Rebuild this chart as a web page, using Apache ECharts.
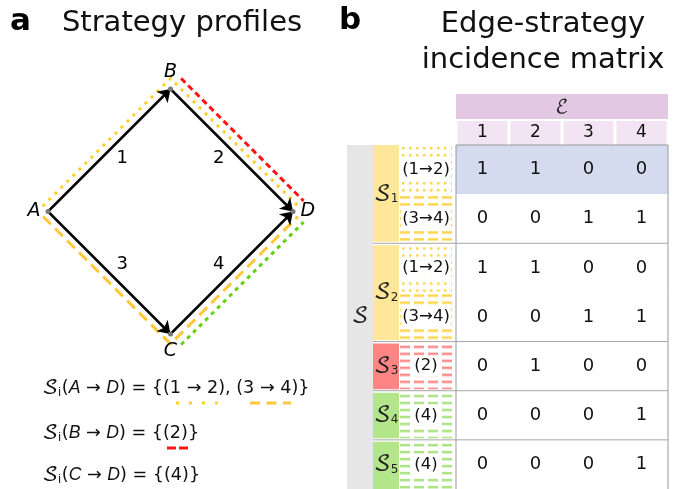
<!DOCTYPE html>
<html>
<head>
<meta charset="utf-8">
<script src="https://cdn.jsdelivr.net/npm/echarts@6/dist/echarts.min.js"></script>
<style>
html, body { margin: 0; padding: 0; background: #fff; }
#box { width: 680px; height: 489px; }
</style>
</head>
<body>
<div id="box"></div>
<script>
// ---- panel a: network ----
const nodeNames = ['A', 'B', 'C', 'D'];
const nodeX = [0, 1, 1, 2];
const nodeY = [1, 2, 0, 1];
const edgeFrom = ['A', 'B', 'A', 'C'];
const edgeTo = ['B', 'D', 'C', 'D'];
const edgeNames = ['1', '2', '3', '4'];
// strategy paths drawn beside the edges
const pathNodes = [['A', 'B', 'D'], ['A', 'C', 'D'], ['B', 'D'], ['C', 'D']];

// ---- panel b: incidence matrix ----
const edgeSetName = 'ℰ';
const edgeCols = ['1', '2', '3', '4'];
const subRowLabels = ['(1→2)', '(3→4)', '(1→2)', '(3→4)', '(2)', '(4)', '(4)'];
const rowStrategy = [1, 1, 2, 2, 3, 4, 5];
const incidence = [
  [1, 1, 0, 0],
  [0, 0, 1, 1],
  [1, 1, 0, 0],
  [0, 0, 1, 1],
  [0, 1, 0, 0],
  [0, 0, 0, 1],
  [0, 0, 0, 1]
];

const MATH = "'DejaVu Math TeX Gyre', 'DejaVu Serif', serif";
const SANS = "'DejaVu Sans', Verdana, sans-serif";
const PX = 122.5; // pixels per unit in panel a

// path styles: gap (px), colour, dash
const pathStyles = [
  { gap: 7.5, color: '#ffcf26', dash: [3, 5.5], width: 3 },
  { gap: 7, color: '#ffc83a', dash: [11, 6], width: 3 },
  { gap: 15, color: '#ff1414', dash: [6, 4], width: 3 },
  { gap: 15, color: '#66cf1a', dash: [4, 4.5], width: 3 }
];
const stratColors = { 1: '#ffe699', 2: '#ffe699', 3: '#ff8585', 4: '#b3e58b', 5: '#b3e58b' };

function makeTile(w, h, color, dx, dy, dw, dh) {
  const c = document.createElement('canvas');
  c.width = w; c.height = h;
  const g = c.getContext('2d');
  g.fillStyle = color;
  g.fillRect(dx, dy, dw, dh);
  return c;
}
const tiles = {
  '(1→2)': makeTile(7, 7, '#ffd54d', 2, 2, 2.5, 2.5),
  '(3→4)': makeTile(14, 7, '#ffd54d', 0, 2, 10, 2.5),
  '(2)': makeTile(14, 7, '#ff8a8a', 0, 2, 10, 2.5),
  '(4)': makeTile(14, 7, '#acE383', 0, 2, 10, 2.5)
};

const nIdx = n => nodeNames.indexOf(n);
const cx = nodeX.reduce((a, b) => a + b) / nodeX.length;
const cy = nodeY.reduce((a, b) => a + b) / nodeY.length;

function offsetPath(names, gap) {
  const pts = names.map(n => [nodeX[nIdx(n)], nodeY[nIdx(n)]]);
  const normals = [];
  for (let i = 0; i < pts.length - 1; i++) {
    const p = pts[i], q = pts[i + 1];
    const dx = q[0] - p[0], dy = q[1] - p[1];
    const len = Math.hypot(dx, dy);
    let n = [dy / len, -dx / len];
    const mx = (p[0] + q[0]) / 2 - cx, my = (p[1] + q[1]) / 2 - cy;
    if (n[0] * mx + n[1] * my < 0) n = [-n[0], -n[1]];
    normals.push(n);
  }
  return pts.map((p, i) => {
    let n;
    if (i === 0) n = normals[0];
    else if (i === pts.length - 1) n = normals[normals.length - 1];
    else {
      const a = normals[i - 1], b = normals[i];
      const k = 1 + a[0] * b[0] + a[1] * b[1];
      n = [(a[0] + b[0]) / k, (a[1] + b[1]) / k];
    }
    return [p[0] + gap * n[0], p[1] + gap * n[1]];
  });
}

function cellRect(api, col, row) {
  const p = api.coord([col, row]);
  const s = api.size([1, 1]);
  return { x: p[0] - s[0] / 2, y: p[1] - s[1] / 2, w: s[0], h: s[1], cx: p[0], cy: p[1] };
}

const nRows = subRowLabels.length;
const isFirst = r => r === 0 || rowStrategy[r - 1] !== rowStrategy[r];
const isLast = r => r === nRows - 1 || rowStrategy[r + 1] !== rowStrategy[r];

const cellData = [];
incidence.forEach((row, r) => row.forEach((v, c) => cellData.push([c, r, v])));
const blockData = [];
rowStrategy.forEach((s, r) => {
  if (isFirst(r)) blockData.push([0, r, r, s]);
  else blockData[blockData.length - 1][2] = r;
});
const boundaryData = [];
rowStrategy.forEach((s, r) => { if (r > 0 && isFirst(r)) boundaryData.push([0, r]); });

var myChart = echarts.init(document.getElementById('box'));
let option = {
  animation: false,
  textStyle: { fontFamily: SANS },
  grid: [
    { left: 48, top: 89, width: 245, height: 245 },
    { left: 456, top: 145, width: 212, height: 346.5 }
  ],
  xAxis: [
    { gridIndex: 0, type: 'value', min: 0, max: 2, show: false },
    {
      gridIndex: 1, type: 'category', data: edgeCols, position: 'top',
      axisLine: { show: false }, axisTick: { show: false }, splitLine: { show: false },
      axisLabel: {
        margin: 0, fontSize: 17, color: '#111', backgroundColor: '#f2e4f2',
        width: 50, height: 24, lineHeight: 24, align: 'center'
      }
    }
  ],
  yAxis: [
    { gridIndex: 0, type: 'value', min: 0, max: 2, show: false },
    { gridIndex: 1, type: 'category', data: subRowLabels, inverse: true, show: false }
  ],
  graphic: [
    { type: 'text', left: 10, top: 6, style: { text: 'a', font: 'bold 31px ' + SANS, fill: '#000' } },
    { type: 'text', x: 182, y: 23, style: { text: 'Strategy profiles', font: '29px ' + SANS, fill: '#111', align: 'center', verticalAlign: 'middle' } },
    { type: 'text', left: 339, top: 5, style: { text: 'b', font: 'bold 31px ' + SANS, fill: '#000' } },
    { type: 'text', x: 543, y: 24, style: { text: 'Edge-strategy', font: '29px ' + SANS, fill: '#111', align: 'center', verticalAlign: 'middle' } },
    { type: 'text', x: 543, y: 60, style: { text: 'incidence matrix', font: '29px ' + SANS, fill: '#111', align: 'center', verticalAlign: 'middle' } },
    // formulas
    ...[['A', '{(1 → 2), (3 → 4)}', 388], ['B', '{(2)}', 433], ['C', '{(4)}', 475]].map(f => ({
      type: 'text', x: 42, y: f[2],
      style: {
        text: '{s|𝒮}{sub|i}(' + '{it|' + f[0] + '} → {it|D}) = ' + f[1],
        font: '17.6px ' + SANS, fill: '#111', verticalAlign: 'middle',
        rich: {
          s: { fontFamily: MATH, fontSize: 21, fill: '#111' },
          sub: { fontSize: 12, verticalAlign: 'bottom', padding: [9, 1, 0, 0], fill: '#111' },
          it: { fontStyle: 'italic', fontSize: 17.6, fill: '#111' }
        }
      }
    })),
    { type: 'line', shape: { x1: 176, y1: 403, x2: 218, y2: 403 }, style: { stroke: '#ffd02e', lineWidth: 3, lineDash: [3, 10] } },
    { type: 'line', shape: { x1: 250, y1: 403, x2: 291, y2: 403 }, style: { stroke: '#ffc83a', lineWidth: 3, lineDash: [10, 6.5] } },
    { type: 'line', shape: { x1: 167, y1: 448, x2: 188, y2: 448 }, style: { stroke: '#ff1414', lineWidth: 3, lineDash: [9, 3] } }
  ],
  series: [
    {
      type: 'lines', coordinateSystem: 'cartesian2d', xAxisIndex: 0, yAxisIndex: 0,
      polyline: true, silent: true, z: 1, clip: false,
      data: pathNodes.map((p, i) => ({
        coords: offsetPath(p, pathStyles[i].gap / PX),
        lineStyle: { color: pathStyles[i].color, width: pathStyles[i].width, type: pathStyles[i].dash, cap: 'butt', opacity: 1 }
      }))
    },
    {
      type: 'lines', coordinateSystem: 'cartesian2d', xAxisIndex: 0, yAxisIndex: 0,
      symbol: ['none', 'arrow'], symbolSize: 12, silent: true, z: 3, clip: false,
      lineStyle: { color: '#000', width: 2.5, opacity: 1 },
      data: edgeFrom.map((f, i) => ({
        coords: [[nodeX[nIdx(f)], nodeY[nIdx(f)]], [nodeX[nIdx(edgeTo[i])], nodeY[nIdx(edgeTo[i])]]]
      }))
    },
    {
      type: 'scatter', xAxisIndex: 0, yAxisIndex: 0, symbolSize: 5, z: 4, clip: false, silent: true,
      itemStyle: { color: '#777', opacity: 1 },
      data: nodeNames.map((n, i) => ({
        name: n, value: [nodeX[i], nodeY[i]],
        label: {
          show: true, formatter: n, fontSize: 19, fontStyle: 'italic', color: '#000', distance: 5,
          position: nodeX[i] < cx ? 'left' : nodeX[i] > cx ? 'right' : nodeY[i] > cy ? 'top' : 'bottom'
        }
      }))
    },
    {
      type: 'scatter', xAxisIndex: 0, yAxisIndex: 0, symbolSize: 0, z: 4, silent: true,
      itemStyle: { opacity: 1 },
      data: edgeFrom.map((f, i) => {
        const a = nIdx(f), b = nIdx(edgeTo[i]);
        const mx = (nodeX[a] + nodeX[b]) / 2, my = (nodeY[a] + nodeY[b]) / 2;
        return {
          value: [mx, my],
          label: {
            show: true, position: 'inside', formatter: edgeNames[i], fontSize: 18, color: '#000',
            offset: [Math.sign(cx - mx) * 13, Math.sign(my - cy) * 8]
          }
        };
      })
    },
    // edge-set header band
    {
      type: 'custom', xAxisIndex: 1, yAxisIndex: 1, z: 2, silent: true,
      data: [[0, 0]],
      renderItem(params, api) {
        const a = cellRect(api, 0, 0), b = cellRect(api, edgeCols.length - 1, 0);
        const y = a.y - 51;
        return { type: 'group', children: [
          { type: 'rect', shape: { x: a.x, y, width: b.x + b.w - a.x, height: 25 }, style: { fill: '#e2c8e2' } },
          { type: 'text', style: { text: edgeSetName, x: (a.x + b.x + b.w) / 2, y: y + 13, align: 'center', verticalAlign: 'middle', font: '19px ' + MATH, fill: '#222' } }
        ] };
      }
    },
    // grey S column
    {
      type: 'custom', xAxisIndex: 1, yAxisIndex: 1, z: 2, silent: true,
      data: [[0, 0]],
      renderItem(params, api) {
        const t = cellRect(api, 0, 0), b = cellRect(api, 0, nRows - 1);
        const x = t.x - 109, y0 = t.y, y1 = b.y + b.h;
        return { type: 'group', children: [
          { type: 'rect', shape: { x, y: y0, width: 26, height: y1 - y0 }, style: { fill: '#e6e6e6' } },
          { type: 'text', style: { text: '𝒮', x: x + 13, y: (y0 + y1) / 2, align: 'center', verticalAlign: 'middle', font: '22px ' + MATH, fill: '#222' } }
        ] };
      }
    },
    // strategy blocks
    {
      type: 'custom', xAxisIndex: 1, yAxisIndex: 1, z: 2, silent: true,
      data: blockData,
      renderItem(params, api) {
        const r0 = api.value(1), r1 = api.value(2), s = api.value(3);
        const t = cellRect(api, 0, r0), b = cellRect(api, 0, r1);
        const y0 = t.y + (r0 > 0 ? 2 : 0), y1 = b.y + b.h - (r1 < nRows - 1 ? 1.5 : 0);
        const x = t.x - 83;
        return { type: 'group', children: [
          { type: 'rect', shape: { x, y: y0, width: 26, height: y1 - y0 }, style: { fill: stratColors[s] } },
          { type: 'text', style: {
            text: '{s|𝒮}{n|' + s + '}', x: x + 13, y: (t.y + b.y + b.h) / 2, align: 'center', verticalAlign: 'middle',
            rich: {
              s: { fontFamily: MATH, fontSize: 22, fill: '#222' },
              n: { fontFamily: SANS, fontSize: 12, fill: '#222', verticalAlign: 'bottom', padding: [8, 0, 0, 0] }
            }
          } }
        ] };
      }
    },
    // sub-row labels with patterns
    {
      type: 'custom', xAxisIndex: 1, yAxisIndex: 1, z: 2, silent: true,
      data: subRowLabels.map((l, r) => [0, r]),
      renderItem(params, api) {
        const r = api.value(1);
        const c = cellRect(api, 0, r);
        const y0 = c.y + (isFirst(r) && r > 0 ? 2 : 0);
        const y1 = c.y + c.h - (isLast(r) && r < nRows - 1 ? 1.5 : 0);
        const x = c.x - 56;
        return { type: 'group', children: [
          { type: 'rect', shape: { x, y: y0, width: 52, height: y1 - y0 },
            style: { fill: { image: tiles[subRowLabels[r]], repeat: 'repeat', x: x, y: y0 } } },
          { type: 'text', style: {
            text: subRowLabels[r], x: x + 26, y: c.cy, align: 'center', verticalAlign: 'middle',
            font: '16.5px ' + SANS, fill: '#111', backgroundColor: '#fff', padding: [2, 1]
          } }
        ] };
      }
    },
    // matrix cells
    {
      type: 'custom', xAxisIndex: 1, yAxisIndex: 1, z: 2, silent: true,
      data: cellData,
      renderItem(params, api) {
        const col = api.value(0), r = api.value(1), v = api.value(2);
        const c = cellRect(api, col, r);
        const ch = [
          { type: 'rect', shape: { x: c.x, y: c.y, width: c.w, height: c.h }, style: { fill: r === 0 ? '#d5dbef' : '#fff' } },
          { type: 'text', style: { text: String(v), x: c.cx, y: c.cy, align: 'center', verticalAlign: 'middle', font: '18px ' + SANS, fill: '#111' } }
        ];
        const ls = { stroke: '#999', lineWidth: 1 };
        if (col === 0) ch.push({ type: 'line', shape: { x1: c.x, y1: c.y, x2: c.x, y2: c.y + c.h }, style: ls });
        if (col === edgeCols.length - 1) ch.push({ type: 'line', shape: { x1: c.x + c.w, y1: c.y, x2: c.x + c.w, y2: c.y + c.h }, style: ls });
        if (r === 0) ch.push({ type: 'line', shape: { x1: c.x, y1: c.y, x2: c.x + c.w, y2: c.y }, style: ls });
        return { type: 'group', children: ch };
      }
    },
    // block separators
    {
      type: 'custom', xAxisIndex: 1, yAxisIndex: 1, z: 5, silent: true,
      data: boundaryData,
      renderItem(params, api) {
        const c = cellRect(api, 0, api.value(1));
        const right = cellRect(api, edgeCols.length - 1, api.value(1));
        return { type: 'line', shape: { x1: c.x - 83, y1: c.y, x2: right.x + right.w, y2: c.y }, style: { stroke: '#a6a6a6', lineWidth: 1 } };
      }
    }
  ]
};
myChart.setOption(option);
</script>
</body>
</html>
